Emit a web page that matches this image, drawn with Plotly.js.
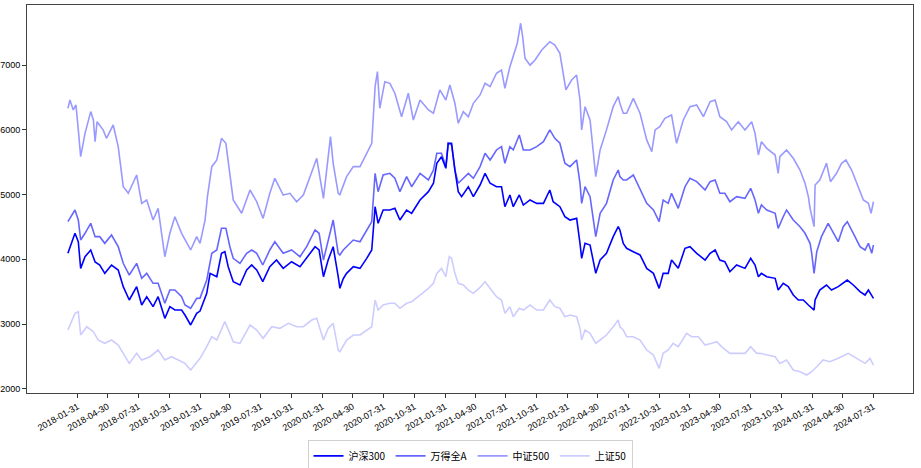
<!DOCTYPE html>
<html>
<head>
<meta charset="utf-8">
<script src="https://cdn.plot.ly/plotly-3.0.1.min.js"></script>
<style>html,body{margin:0;padding:0;background:#fff;}#chart{width:921px;height:468px;}</style>
</head>
<body>
<div id="chart"></div>
<script>
// ---- data ----
const hs300Dates = ["2018-01-02","2018-01-23","2018-02-02","2018-02-09","2018-02-22","2018-03-11","2018-03-24","2018-04-07","2018-04-22","2018-05-12","2018-06-01","2018-06-16","2018-07-04","2018-07-26","2018-08-10","2018-08-25","2018-09-13","2018-09-28","2018-10-18","2018-11-02","2018-11-17","2018-12-07","2018-12-17","2019-01-03","2019-01-21","2019-01-31","2019-02-20","2019-03-02","2019-03-22","2019-04-05","2019-04-15","2019-04-25","2019-05-10","2019-05-30","2019-06-19","2019-07-04","2019-07-19","2019-08-06","2019-08-27","2019-09-16","2019-10-06","2019-10-31","2019-11-25","2019-12-15","2020-01-09","2020-01-21","2020-02-03","2020-02-17","2020-03-03","2020-03-18","2020-03-23","2020-04-02","2020-04-12","2020-05-02","2020-05-22","2020-06-11","2020-06-26","2020-07-06","2020-07-15","2020-07-30","2020-08-19","2020-09-03","2020-09-18","2020-10-08","2020-10-23","2020-11-17","2020-12-12","2020-12-27","2021-01-06","2021-01-20","2021-02-02","2021-02-09","2021-02-19","2021-03-01","2021-03-11","2021-03-21","2021-04-10","2021-04-25","2021-05-15","2021-05-30","2021-06-14","2021-07-03","2021-07-18","2021-07-28","2021-08-12","2021-08-22","2021-09-09","2021-09-21","2021-10-11","2021-10-31","2021-11-20","2021-12-09","2021-12-19","2022-01-08","2022-01-23","2022-02-07","2022-02-27","2022-03-09","2022-03-14","2022-03-24","2022-04-08","2022-04-25","2022-05-08","2022-05-27","2022-06-16","2022-07-01","2022-07-06","2022-07-16","2022-07-26","2022-08-15","2022-09-04","2022-09-24","2022-10-14","2022-10-31","2022-11-12","2022-11-27","2022-12-07","2022-12-27","2023-01-16","2023-01-31","2023-02-20","2023-03-17","2023-04-01","2023-04-16","2023-04-30","2023-05-15","2023-05-30","2023-06-19","2023-07-14","2023-07-31","2023-08-13","2023-08-23","2023-09-01","2023-09-17","2023-10-12","2023-10-21","2023-11-05","2023-11-20","2023-12-05","2023-12-20","2024-01-04","2024-01-19","2024-02-05","2024-02-08","2024-02-22","2024-03-13","2024-03-28","2024-04-17","2024-05-14","2024-06-01","2024-06-21","2024-07-06","2024-07-16","2024-07-31"];
const hs300Vals = [4093,4402,4272,3860,4040,4144,3958,3912,3783,3912,3835,3577,3371,3577,3294,3422,3268,3422,3088,3268,3216,3216,3139,2985,3165,3200,3474,3783,3731,4093,4118,3886,3654,3603,3835,3912,3835,3654,3886,3989,3860,3963,3886,4015,4195,4144,3731,3989,4195,3731,3551,3700,3783,3886,3860,4015,4144,4813,4556,4762,4762,4788,4607,4762,4711,4917,5045,5175,5484,5586,5406,5793,5793,5380,5045,4968,5122,4968,5148,5329,5175,5122,5122,4813,4994,4813,4994,4839,4917,4865,4865,5071,4890,4813,4658,4607,4633,4247,4015,4247,4221,3783,3989,4093,4350,4504,4453,4247,4170,4118,4067,3860,3783,3551,3783,3783,3989,3860,4170,4195,4093,3989,4093,4144,3989,3963,3808,3912,3860,4015,3912,3731,3783,3731,3706,3525,3629,3577,3448,3371,3371,3294,3216,3371,3525,3603,3525,3577,3680,3603,3500,3448,3525,3397];

const windADates = ["2018-01-02","2018-01-23","2018-02-02","2018-02-09","2018-02-22","2018-03-11","2018-03-24","2018-04-07","2018-04-22","2018-05-12","2018-06-01","2018-06-16","2018-07-04","2018-07-26","2018-08-10","2018-08-25","2018-09-13","2018-09-28","2018-10-18","2018-11-02","2018-11-17","2018-12-07","2018-12-17","2019-01-03","2019-01-21","2019-01-31","2019-02-20","2019-03-07","2019-03-22","2019-04-05","2019-04-18","2019-04-30","2019-05-10","2019-05-30","2019-06-19","2019-07-04","2019-07-19","2019-08-06","2019-08-27","2019-09-11","2019-10-06","2019-10-31","2019-11-25","2019-12-15","2020-01-09","2020-01-21","2020-02-03","2020-02-17","2020-03-03","2020-03-18","2020-03-23","2020-04-02","2020-04-12","2020-05-02","2020-05-22","2020-06-11","2020-06-26","2020-07-06","2020-07-15","2020-07-30","2020-08-19","2020-09-03","2020-09-18","2020-10-08","2020-10-23","2020-11-17","2020-12-12","2020-12-27","2021-01-06","2021-01-20","2021-02-02","2021-02-09","2021-02-19","2021-03-01","2021-03-11","2021-03-21","2021-04-10","2021-04-25","2021-05-15","2021-05-30","2021-06-14","2021-07-03","2021-07-18","2021-07-28","2021-08-12","2021-08-22","2021-09-09","2021-09-21","2021-10-11","2021-10-31","2021-11-20","2021-12-09","2021-12-24","2022-01-08","2022-01-23","2022-02-07","2022-02-27","2022-03-09","2022-03-14","2022-03-24","2022-04-08","2022-04-25","2022-05-08","2022-05-27","2022-06-16","2022-07-01","2022-07-06","2022-07-16","2022-07-26","2022-08-15","2022-09-04","2022-09-24","2022-10-14","2022-10-31","2022-11-12","2022-11-27","2022-12-07","2022-12-27","2023-01-16","2023-01-31","2023-02-20","2023-03-17","2023-04-01","2023-04-16","2023-04-30","2023-05-15","2023-05-30","2023-06-19","2023-07-14","2023-07-31","2023-08-13","2023-08-23","2023-09-01","2023-09-17","2023-10-12","2023-10-21","2023-11-05","2023-11-15","2023-12-05","2023-12-25","2024-01-09","2024-01-24","2024-01-29","2024-02-05","2024-02-13","2024-02-27","2024-03-18","2024-04-02","2024-04-17","2024-05-02","2024-05-14","2024-06-01","2024-06-21","2024-07-06","2024-07-16","2024-07-26","2024-07-31"];
const windAVals = [4581,4762,4607,4298,4402,4556,4350,4350,4247,4376,4195,3938,3757,3938,3706,3783,3629,3629,3320,3525,3525,3422,3294,3243,3397,3400,3680,4093,4144,4479,4479,4195,4015,3938,4093,4144,4093,3912,4144,4272,4093,4144,4040,4195,4453,4402,3989,4272,4607,4093,4067,4144,4195,4298,4272,4453,4581,5329,5045,5303,5329,5252,5045,5277,5122,5329,5226,5380,5638,5638,5432,5793,5767,5380,5175,5226,5329,5252,5432,5638,5535,5690,5741,5484,5741,5690,5921,5690,5690,5741,5818,6000,5870,5793,5484,5432,5535,5175,4865,5122,4968,4350,4711,4865,5226,5380,5277,5226,5226,5303,5071,4865,4762,4581,4917,4865,5020,4788,5122,5252,5200,5071,5200,5226,5020,5020,4890,4968,4942,5097,4917,4711,4840,4762,4711,4479,4658,4762,4607,4504,4402,4247,4093,3783,4118,4350,4556,4402,4272,4504,4581,4402,4195,4144,4247,4093,4221];

const csi500Dates = ["2018-01-02","2018-01-08","2018-01-18","2018-01-26","2018-02-02","2018-02-09","2018-02-22","2018-03-11","2018-03-19","2018-03-24","2018-03-30","2018-04-17","2018-04-27","2018-05-17","2018-06-01","2018-06-16","2018-07-01","2018-07-26","2018-08-10","2018-08-25","2018-09-13","2018-09-28","2018-10-18","2018-11-02","2018-11-17","2018-12-07","2019-01-03","2019-01-21","2019-01-31","2019-02-15","2019-02-22","2019-03-07","2019-03-22","2019-04-05","2019-04-18","2019-04-30","2019-05-10","2019-06-04","2019-06-29","2019-07-19","2019-08-07","2019-08-27","2019-09-11","2019-10-06","2019-10-26","2019-11-15","2019-12-05","2019-12-25","2020-01-14","2020-02-03","2020-02-17","2020-02-24","2020-03-03","2020-03-18","2020-03-23","2020-04-12","2020-05-02","2020-05-22","2020-06-11","2020-06-26","2020-07-06","2020-07-13","2020-07-20","2020-08-04","2020-08-19","2020-09-03","2020-09-23","2020-10-13","2020-10-28","2020-11-17","2020-12-12","2020-12-27","2021-01-15","2021-02-02","2021-02-14","2021-03-01","2021-03-11","2021-03-26","2021-04-10","2021-04-25","2021-05-15","2021-05-30","2021-06-14","2021-07-03","2021-07-18","2021-07-28","2021-08-12","2021-08-22","2021-09-03","2021-09-13","2021-09-19","2021-09-26","2021-10-11","2021-10-26","2021-11-15","2021-12-09","2021-12-24","2022-01-08","2022-01-26","2022-02-12","2022-02-27","2022-03-09","2022-03-14","2022-03-24","2022-04-08","2022-04-25","2022-05-08","2022-05-27","2022-06-16","2022-07-01","2022-07-06","2022-07-16","2022-07-26","2022-08-15","2022-09-04","2022-09-24","2022-10-09","2022-10-19","2022-11-02","2022-11-17","2022-12-07","2022-12-22","2023-01-11","2023-01-31","2023-02-20","2023-03-12","2023-04-01","2023-04-16","2023-04-30","2023-05-20","2023-06-04","2023-06-24","2023-07-14","2023-08-03","2023-08-13","2023-08-23","2023-09-01","2023-09-17","2023-10-12","2023-10-21","2023-10-26","2023-11-15","2023-12-05","2023-12-25","2024-01-09","2024-01-19","2024-01-24","2024-02-05","2024-02-08","2024-02-22","2024-03-13","2024-03-25","2024-04-12","2024-04-27","2024-05-10","2024-05-27","2024-06-16","2024-07-01","2024-07-16","2024-07-24","2024-07-31"];
const csi500Vals = [6334,6462,6308,6385,6000,5586,5947,6283,6153,5818,6127,6000,5870,6076,5741,5122,5020,5303,4865,4917,4607,4788,4040,4402,4658,4402,4144,4350,4247,4607,4968,5432,5535,5870,5793,5277,4917,4711,5071,4890,4633,5020,5252,4994,5020,4890,4994,5277,5561,4942,5638,5896,5484,5020,5000,5277,5432,5432,5638,5793,6668,6900,6334,6745,6720,6566,6204,6566,6153,6462,6308,6257,6617,6462,6694,6411,6102,6283,6204,6411,6540,6720,6668,6875,6926,6643,6977,7131,7339,7648,7441,7107,7000,7080,7235,7363,7312,7184,6617,6771,6848,6462,6000,6359,6153,5277,5690,6000,6359,6514,6411,6257,6257,6488,6257,5845,5663,6000,6050,6179,6230,5793,6153,6359,6385,6204,6436,6462,6204,6127,6000,6127,6000,6127,5947,5612,5818,5715,5612,5329,5586,5690,5561,5380,5175,4968,4788,4504,5148,5226,5484,5200,5329,5484,5535,5380,5097,4917,4865,4711,4890];

const sz50Dates = ["2018-01-02","2018-01-23","2018-02-02","2018-02-09","2018-02-27","2018-03-19","2018-04-02","2018-04-22","2018-05-12","2018-06-01","2018-06-16","2018-07-04","2018-07-26","2018-08-10","2018-09-04","2018-09-28","2018-10-18","2018-11-07","2018-11-27","2018-12-17","2019-01-03","2019-01-21","2019-01-31","2019-02-20","2019-03-07","2019-03-22","2019-04-15","2019-04-30","2019-05-10","2019-05-30","2019-06-29","2019-07-19","2019-08-07","2019-09-02","2019-09-26","2019-10-21","2019-11-15","2019-12-05","2019-12-30","2020-01-14","2020-02-03","2020-02-17","2020-03-03","2020-03-18","2020-03-23","2020-04-12","2020-05-02","2020-05-22","2020-06-11","2020-06-26","2020-07-06","2020-07-15","2020-07-30","2020-08-19","2020-09-03","2020-09-18","2020-10-08","2020-10-23","2020-11-17","2020-12-12","2020-12-27","2021-01-06","2021-01-20","2021-02-02","2021-02-12","2021-02-19","2021-03-01","2021-03-11","2021-03-26","2021-04-10","2021-04-25","2021-05-15","2021-05-30","2021-06-14","2021-07-03","2021-07-18","2021-07-28","2021-08-12","2021-08-22","2021-09-09","2021-09-21","2021-10-11","2021-10-31","2021-11-20","2021-12-09","2021-12-24","2022-01-08","2022-01-23","2022-02-07","2022-02-27","2022-03-09","2022-03-14","2022-03-24","2022-04-08","2022-04-25","2022-05-08","2022-05-27","2022-06-16","2022-07-01","2022-07-06","2022-07-16","2022-07-26","2022-08-15","2022-09-04","2022-09-24","2022-10-14","2022-10-31","2022-11-12","2022-11-27","2022-12-12","2022-12-27","2023-01-21","2023-02-05","2023-02-25","2023-03-17","2023-04-06","2023-04-21","2023-05-05","2023-05-30","2023-06-19","2023-07-14","2023-07-31","2023-08-18","2023-08-28","2023-09-17","2023-10-12","2023-10-26","2023-11-15","2023-12-05","2023-12-25","2024-01-14","2024-01-29","2024-02-13","2024-03-03","2024-03-23","2024-04-17","2024-05-17","2024-06-11","2024-07-06","2024-07-21","2024-07-31"];
const sz50Vals = [2907,3165,3190,2830,2958,2881,2753,2702,2753,2675,2547,2392,2547,2444,2495,2598,2444,2495,2444,2392,2289,2418,2470,2650,2804,2753,3036,2856,2726,2702,2985,2907,2779,2958,2933,3010,2958,2958,3062,3088,2753,2933,3010,2598,2572,2753,2830,2830,2907,2958,3371,3216,3294,3320,3320,3243,3320,3345,3448,3551,3629,3783,3860,3731,4040,4015,3783,3629,3603,3525,3474,3565,3654,3551,3422,3371,3165,3268,3113,3243,3216,3294,3216,3216,3371,3268,3243,3113,3139,3113,2933,2753,2907,2856,2702,2753,2830,2958,3062,2958,2907,2804,2804,2753,2598,2521,2315,2547,2598,2702,2650,2856,2804,2804,2675,2702,2726,2650,2547,2547,2547,2650,2547,2547,2521,2495,2392,2444,2289,2263,2212,2263,2340,2444,2418,2470,2547,2470,2392,2470,2366];

const seriesNames = ["沪深300","万得全A","中证500","上证50"];
const tickDates = ["2018-01-31","2018-04-30","2018-07-31","2018-10-31","2019-01-31","2019-04-30","2019-07-31","2019-10-31","2020-01-31","2020-04-30","2020-07-31","2020-10-31","2021-01-31","2021-04-30","2021-07-31","2021-10-31","2022-01-31","2022-04-30","2022-07-31","2022-10-31","2023-01-31","2023-04-30","2023-07-31","2023-10-31","2024-01-31","2024-04-30","2024-07-31"];
const yTicks = [2000,3000,4000,5000,6000,7000];

// ---- drawing ----
const colors = ["rgba(0,0,255,1)","rgba(0,0,255,0.6)","rgba(0,0,255,0.4)","rgba(0,0,255,0.2)"];
const xs = [hs300Dates, windADates, csi500Dates, sz50Dates];
const ys = [hs300Vals, windAVals, csi500Vals, sz50Vals];
const traces = seriesNames.map((n,i)=>({
  x: xs[i], y: ys[i], name: n, type: "scatter", mode: "lines",
  line: {color: colors[i], width: 1.6}
}));

const layout = {
  width: 921, height: 468,
  margin: {l: 27, r: 8, t: 5, b: 75, autoexpand: false},
  paper_bgcolor: "#fff", plot_bgcolor: "#fff",
  font: {family: "Liberation Sans, Arial, sans-serif", size: 9, color: "#000"},
  showlegend: true,
  legend: {
    orientation: "h", x: 0.5, xanchor: "center", y: -0.122, yanchor: "top",
    bordercolor: "#d0d0d0", borderwidth: 1,
    font: {family: "Noto Sans CJK SC, sans-serif", size: 10, color: "#000"},
    tracegroupgap: 0
  },
  xaxis: {
    type: "date", range: ["2017-09-02","2024-11-26"],
    tickmode: "array", tickvals: tickDates, ticktext: tickDates,
    tickangle: -30, ticks: "outside", ticklen: 4, tickcolor: "#333",
    showgrid: false, zeroline: false,
    showline: true, mirror: true, linecolor: "#444", linewidth: 1,
    automargin: false
  },
  yaxis: {
    range: [1934, 7930],
    tickmode: "array", tickvals: yTicks, ticktext: yTicks.map(String),
    ticks: "outside", ticklen: 4, tickcolor: "#333",
    showgrid: false, zeroline: false,
    showline: true, mirror: true, linecolor: "#444", linewidth: 1,
    automargin: false
  }
};

Plotly.newPlot("chart", traces, layout, {staticPlot: true, displayModeBar: false});
</script>
</body>
</html>
